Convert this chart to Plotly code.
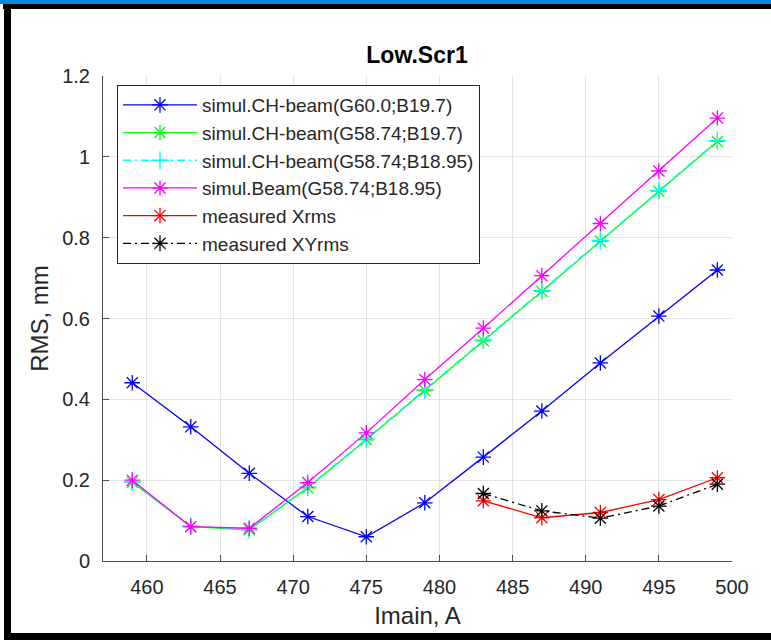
import plotly.graph_objects as go

# ---- data ----
imain = [459, 463, 467, 471, 475, 479, 483, 487, 491, 495, 499]
ch_g60_b197 = [0.441, 0.332, 0.217, 0.110, 0.060, 0.144, 0.257, 0.371, 0.490, 0.606, 0.720]
ch_g5874_b197 = [0.195, 0.085, 0.077, 0.181, 0.300, 0.422, 0.545, 0.667, 0.791, 0.915, 1.038]
ch_g5874_b1895 = [0.196, 0.086, 0.078, 0.183, 0.302, 0.424, 0.547, 0.669, 0.793, 0.917, 1.040]
beam_g5874_b1895 = [0.200, 0.085, 0.081, 0.194, 0.317, 0.449, 0.576, 0.706, 0.835, 0.965, 1.096]
meas_x = [483, 487, 491, 495, 499]
meas_xrms = [0.149, 0.107, 0.120, 0.152, 0.206]
meas_xyrms = [0.167, 0.124, 0.106, 0.136, 0.190]

names = [
    "simul.CH-beam(G60.0;B19.7)",
    "simul.CH-beam(G58.74;B19.7)",
    "simul.CH-beam(G58.74;B18.95)",
    "simul.Beam(G58.74;B18.95)",
    "measured Xrms",
    "measured XYrms",
]

FONT = "Liberation Sans, Arial, sans-serif"
DASHDOT = "8px,4px,2px,4px"

fig = go.Figure()

def add(x, y, name, color, symbol, dash="solid"):
    fig.add_trace(go.Scatter(
        x=x, y=y, name=name, mode="lines+markers",
        line=dict(color=color, width=1.3, dash=dash),
        marker=dict(symbol=symbol, size=13, color=color,
                    line=dict(color=color, width=1.3)),
    ))

add(imain, ch_g60_b197, names[0], "#0000ff", "asterisk-open")
add(imain, ch_g5874_b197, names[1], "#00ff00", "asterisk-open")
add(imain, ch_g5874_b1895, names[2], "#00ffff", "cross-thin-open", DASHDOT)
add(imain, beam_g5874_b1895, names[3], "#ff00ff", "asterisk-open")
add(meas_x, meas_xrms, names[4], "#ff0000", "asterisk-open")
add(meas_x, meas_xyrms, names[5], "#000000", "asterisk-open", DASHDOT)

# window frame decorations (paper coordinates)
L, R, T, B = 103, 39, 76, 79
W, H = 771, 640
pw, ph = W - L - R, H - T - B

def px(xp):
    return (xp - L) / pw

def py(yp):
    return (H - B - yp) / ph

shapes = [
    dict(type="rect", xref="paper", yref="paper", x0=px(0), x1=px(W), y0=py(0), y1=py(4),
         fillcolor="#0b87da", line=dict(width=0), layer="above"),
    dict(type="rect", xref="paper", yref="paper", x0=px(3), x1=px(W), y0=py(4), y1=py(9),
         fillcolor="#000000", line=dict(width=0), layer="above"),
    dict(type="rect", xref="paper", yref="paper", x0=px(4), x1=px(11), y0=py(4), y1=py(H),
         fillcolor="#000000", line=dict(width=0), layer="above"),
    dict(type="rect", xref="paper", yref="paper", x0=px(4), x1=px(W), y0=py(633), y1=py(H),
         fillcolor="#000000", line=dict(width=0), layer="above"),
]

fig.update_layout(
    width=W, height=H,
    margin=dict(l=L, r=R, t=T, b=B),
    paper_bgcolor="white", plot_bgcolor="white",
    font=dict(family=FONT, color="#262626", size=20),
    title=dict(text="<b>Low.Scr1</b>", x=417 / W, xanchor="center",
               y=1 - 55 / H, yanchor="middle",
               font=dict(family=FONT, size=23, color="#000000")),
    shapes=shapes,
    showlegend=True,
    legend=dict(
        x=px(117), y=py(85), xanchor="left", yanchor="top",
        bgcolor="white", bordercolor="#262626", borderwidth=1,
        font=dict(family=FONT, size=19, color="#262626"),
        itemwidth=74, tracegroupgap=0,
    ),
    xaxis=dict(
        range=[457, 500], tickvals=[460, 465, 470, 475, 480, 485, 490, 495, 500],
        showgrid=True, gridcolor="#e3e3e3", gridwidth=1,
        showline=True, linecolor="#4d4d4d", linewidth=1,
        ticks="inside", ticklen=6, tickcolor="#4d4d4d",
        zeroline=False, ticklabelstandoff=8,
        title=dict(text="Imain, A", font=dict(family=FONT, size=24, color="#262626"), standoff=10),
    ),
    yaxis=dict(
        range=[0, 1.2], tickvals=[0, 0.2, 0.4, 0.6, 0.8, 1.0, 1.2],
        ticktext=["0", "0.2", "0.4", "0.6", "0.8", "1", "1.2"],
        showgrid=True, gridcolor="#e3e3e3", gridwidth=1,
        showline=True, linecolor="#4d4d4d", linewidth=1,
        ticks="inside", ticklen=6, tickcolor="#4d4d4d",
        zeroline=False, ticklabelstandoff=8,
        title=dict(text="RMS, mm", font=dict(family=FONT, size=24, color="#262626"), standoff=6),
    ),
)

fig.write_html("out.html")
